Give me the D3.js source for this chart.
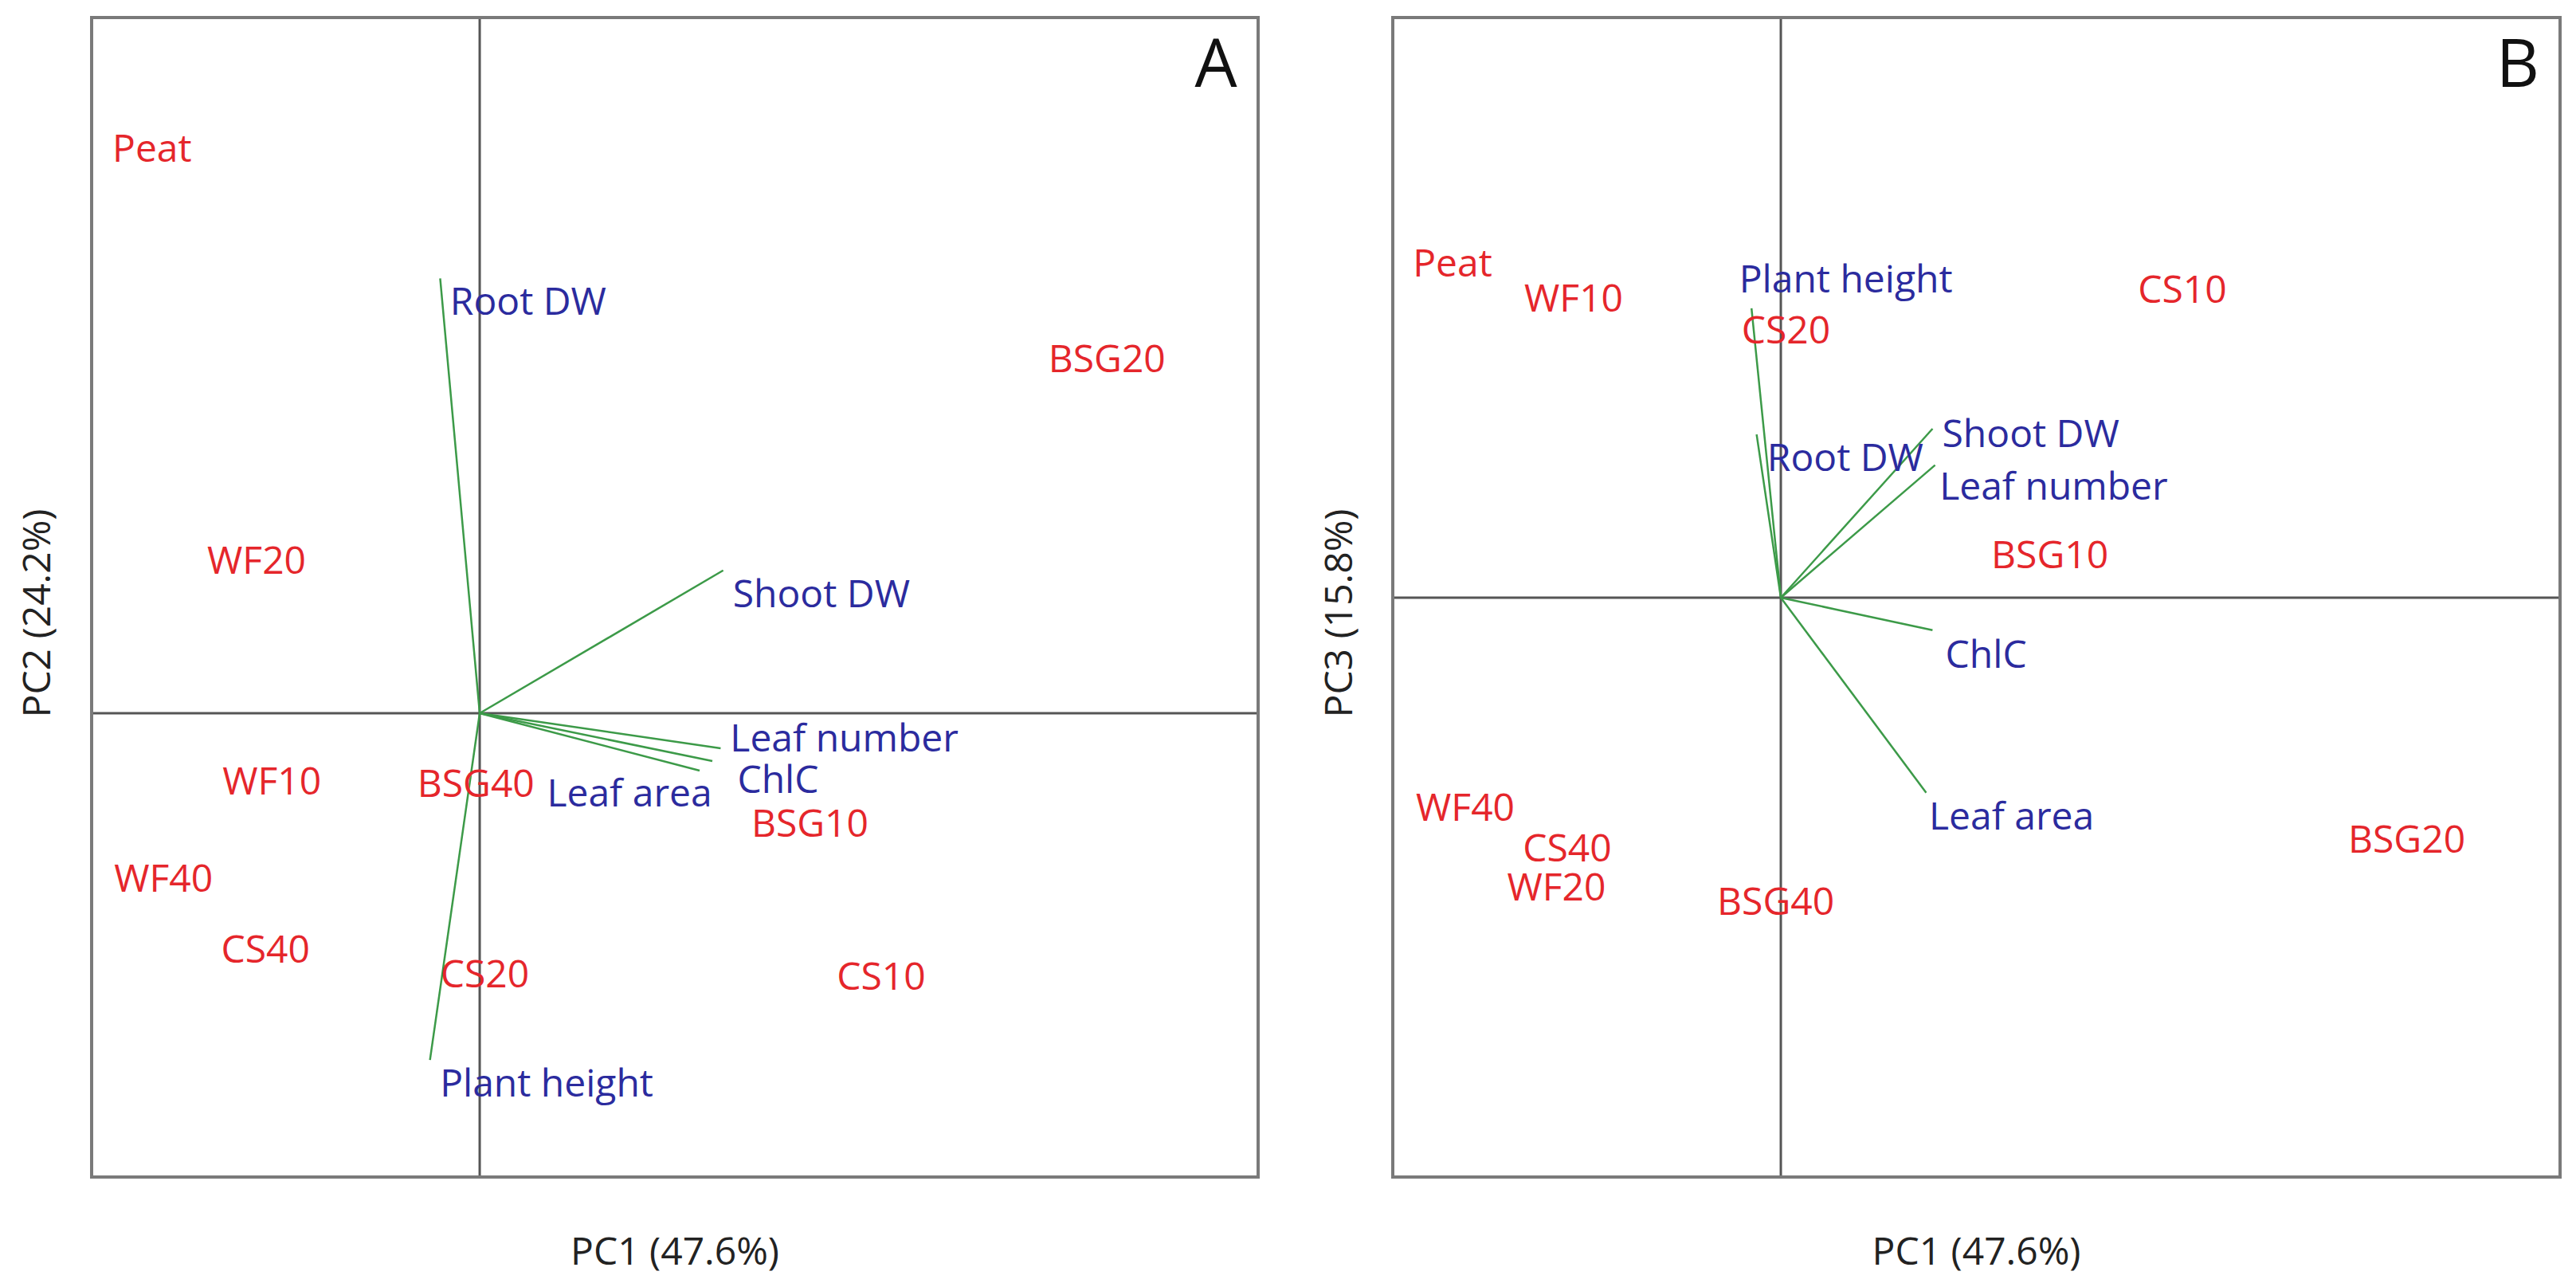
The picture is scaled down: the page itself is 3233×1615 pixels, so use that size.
<!DOCTYPE html>
<html>
<head>
<meta charset="utf-8">
<script src="https://cdn.jsdelivr.net/npm/d3@7"></script>
<style>
  html, body { margin: 0; padding: 0; background: #fff; }
  svg { display: block; }
  text { font-family: "Open Sans", "Noto Sans", sans-serif; }
</style>
</head>
<body>
<svg id="chart" width="3233" height="1615"></svg>
<script>
// ---------- DATA ----------
const treatments = ["Peat", "BSG20", "WF20", "WF10", "BSG40", "BSG10", "WF40", "CS40", "CS20", "CS10"];
// Panel A: PC1 vs PC2 scores (label positions)
const scoreA_pc1 = [-2.57, 4.92, -1.75, -1.63, -0.03, 2.59, -2.48, -1.68, 0.04, 3.15];
const scoreA_pc2 = [4.43, 2.78, 1.20, -0.53, -0.55, -0.86, -1.29, -1.85, -2.04, -2.06];
// Panel B: PC1 vs PC3 scores (label positions)
const scoreB_pc1 = [-2.575, 4.91, -1.76, -1.625, -0.04, 2.11, -2.475, -1.675, 0.04, 3.15];
const scoreB_pc3 = [2.625, -1.89, -2.27, 2.35, -2.38, 0.34, -1.64, -1.96, 2.10, 2.42];

const variables = ["Root DW", "Shoot DW", "Leaf number", "ChlC", "Leaf area", "Plant height"];
// Panel A loadings (arrow tips)
const loadA_pc1 = [-0.31, 1.91, 1.89, 1.825, 1.725, -0.39];
const loadA_pc2 = [3.41, 1.12, -0.275, -0.375, -0.45, -2.72];
// Panel A variable label positions
const labA_x = [0.38, 2.68, 2.86, 2.34, 1.175, 0.525];
const labA_y = [3.23, 0.94, -0.19, -0.52, -0.625, -2.90];
// Panel B loadings (arrow tips)
const loadB_pc1 = [-0.19, 1.19, 1.21, 1.19, 1.14, -0.23];
const loadB_pc3 = [1.28, 1.325, 1.04, -0.255, -1.53, 2.27];
// Panel B variable label positions
const labB_x = [0.505, 1.96, 2.14, 1.61, 1.81, 0.51];
const labB_y = [1.10, 1.29, 0.875, -0.44, -1.71, 2.50];

const panelTags = ["A", "B"];
const xTitles = ["PC1 (47.6%)", "PC1 (47.6%)"];
const yTitles = ["PC2 (24.2%)", "PC3 (15.8%)"];

// ---------- LAYOUT ----------
const panels = [
  { tag: panelTags[0], xt: xTitles[0], yt: yTitles[0],
    box: { l: 115, r: 1579, t: 22, b: 1477 },
    xd: [-3.044, 6.106], yd: [-3.6375, 5.456],
    ox: scoreA_pc1, oy: scoreA_pc2, vx: loadA_pc1, vy: loadA_pc2, lx: labA_x, ly: labA_y,
    ylabX: 46 },
  { tag: panelTags[1], xt: xTitles[1], yt: yTitles[1],
    box: { l: 1748, r: 3213, t: 22, b: 1477 },
    xd: [-3.044, 6.1125], yd: [-4.544, 4.55],
    ox: scoreB_pc1, oy: scoreB_pc3, vx: loadB_pc1, vy: loadB_pc3, lx: labB_x, ly: labB_y,
    ylabX: 1680 }
];

const svg = d3.select("#chart");
const RED = "#e5262b", BLUE = "#2b2b9e", GREEN = "#3c9a48";
const FS = 48;

panels.forEach(p => {
  const x = d3.scaleLinear().domain(p.xd).range([p.box.l, p.box.r]);
  const y = d3.scaleLinear().domain(p.yd).range([p.box.b, p.box.t]);
  const g = svg.append("g");

  // zero lines
  g.append("line").attr("x1", x(0)).attr("x2", x(0)).attr("y1", p.box.t).attr("y2", p.box.b)
    .attr("stroke", "#555").attr("stroke-width", 3);
  g.append("line").attr("x1", p.box.l).attr("x2", p.box.r).attr("y1", y(0)).attr("y2", y(0))
    .attr("stroke", "#555").attr("stroke-width", 3);

  // arrows
  g.selectAll("line.arrow").data(variables).join("line").attr("class", "arrow")
    .attr("x1", x(0)).attr("y1", y(0))
    .attr("x2", (d, i) => x(p.vx[i])).attr("y2", (d, i) => y(p.vy[i]))
    .attr("stroke", GREEN).attr("stroke-width", 2.5);

  // observation labels
  g.selectAll("text.obs").data(treatments).join("text").attr("class", "obs")
    .attr("x", (d, i) => x(p.ox[i])).attr("y", (d, i) => y(p.oy[i]))
    .attr("text-anchor", "middle").attr("dy", "0.36em")
    .attr("font-size", FS).attr("fill", RED).text(d => d);

  // variable labels
  g.selectAll("text.var").data(variables).join("text").attr("class", "var")
    .attr("x", (d, i) => x(p.lx[i])).attr("y", (d, i) => y(p.ly[i]))
    .attr("text-anchor", "middle").attr("dy", "0.36em")
    .attr("font-size", FS).attr("fill", BLUE).text(d => d);

  // frame
  g.append("rect").attr("x", p.box.l).attr("y", p.box.t)
    .attr("width", p.box.r - p.box.l).attr("height", p.box.b - p.box.t)
    .attr("fill", "none").attr("stroke", "#7a7a7a").attr("stroke-width", 4);

  // panel tag
  g.append("text").attr("x", p.box.r - 53).attr("y", 109)
    .attr("text-anchor", "middle").attr("font-size", 84).attr("fill", "#111").text(p.tag);

  // axis titles
  g.append("text").attr("x", (p.box.l + p.box.r) / 2).attr("y", 1570).attr("dy", "0.36em")
    .attr("text-anchor", "middle").attr("font-size", FS).attr("fill", "#222").text(p.xt);
  g.append("text").attr("transform", `translate(${p.ylabX},${(p.box.t + p.box.b) / 2 + 20}) rotate(-90)`)
    .attr("dy", "0.36em").attr("text-anchor", "middle").attr("font-size", FS).attr("fill", "#222").text(p.yt);
});
</script>
</body>
</html>
